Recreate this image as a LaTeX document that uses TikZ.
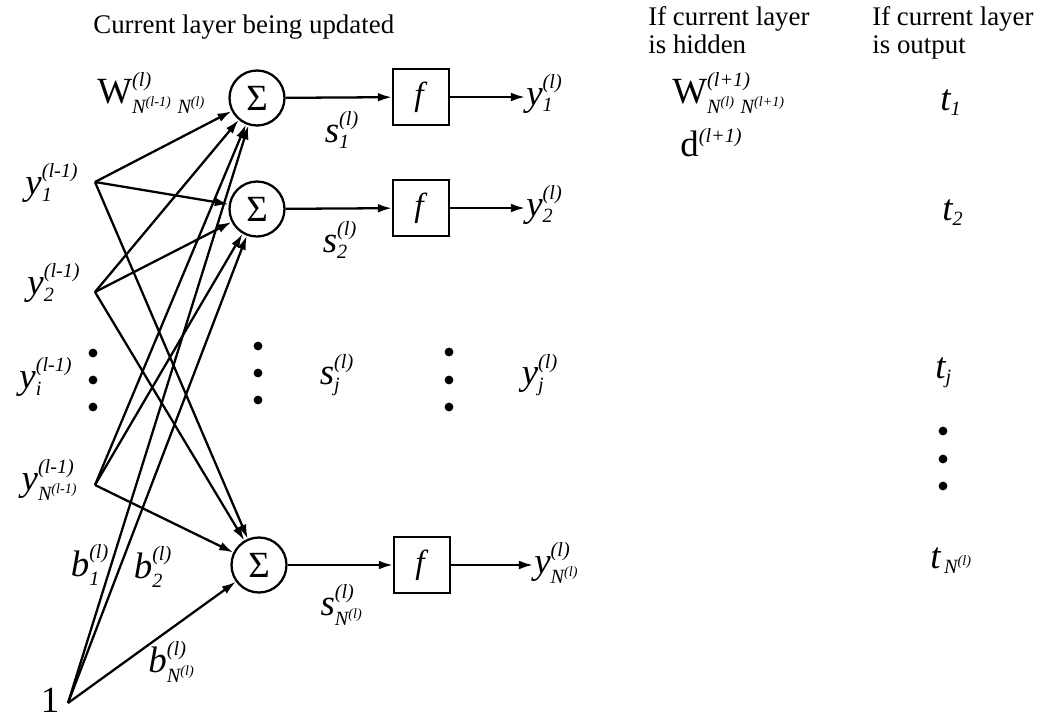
\documentclass[tikz,border=0pt]{standalone}
\usepackage{amsmath}
\usepackage{fontspec}
\setmainfont{Liberation Serif}
\usetikzlibrary{arrows.meta}
\DeclareMathSizes{21}{21}{11.5}{9}
\newcommand{\lblfont}{\fontsize{21}{23}\selectfont}
\newcommand{\hdfont}{\fontsize{15.3}{17}\selectfont}
\newcommand{\sym}[3]{$\textit{#1}^{\textit{#2}}_{\textit{#3}}$}

\begin{document}
\begin{tikzpicture}[x=0.02cm, y=-0.02cm]
\tikzset{sommenoeud/.style={draw, circle, line width=1.3pt, minimum size=1.1cm, inner sep=0pt, font=\fontsize{21}{23}\selectfont},
fnoeud/.style={draw, rectangle, line width=1.3pt, minimum size=1.12cm, inner sep=0pt, font=\fontsize{19}{21}\selectfont},
etiq/.style={inner sep=0pt, font=\lblfont},
entete/.style={inner sep=0pt, font=\hdfont, anchor=base west},
fleche/.style={line width=1.3pt, -{Latex[length=8pt, width=5pt]}},
petitpoint/.style={circle, fill, inner sep=0pt, minimum size=5pt}}
\useasboundingbox (0,0) rectangle (1050,720);
\node[entete] (titre) at (93,33) {Current layer being updated};
\node[entete] (cach1) at (648,25) {If current layer};
\node[entete] (cach2) at (648,53) {is hidden};
\node[entete] (sort1) at (872,25) {If current layer};
\node[entete] (sort2) at (872,53) {is output};
\node[sommenoeud] (S1) at (257,98) {Σ};
\node[sommenoeud] (S2) at (257,209) {Σ};
\node[sommenoeud] (S3) at (259,565) {Σ};
\node[fnoeud] (F1) at (421,97) {\textit{f}};
\node[fnoeud] (F2) at (421,208) {\textit{f}};
\node[fnoeud] (F3) at (422,565) {\textit{f}};
\coordinate (X1) at (95,182);
\coordinate (X2) at (95,292);
\coordinate (XN) at (95,485);
\coordinate (B) at (68,703);
\coordinate (Y1) at (525,97);
\coordinate (Y2) at (525,208);
\coordinate (YN) at (533,565);
\draw[fleche] (X1) -- (S1);
\draw[fleche] (X1) -- (S2);
\draw[fleche] (X1) -- (S3);
\draw[fleche] (X2) -- (S1);
\draw[fleche] (X2) -- (S2);
\draw[fleche] (X2) -- (S3);
\draw[fleche] (XN) -- (S1);
\draw[fleche] (XN) -- (S2);
\draw[fleche] (XN) -- (S3);
\draw[fleche] (B) -- (S1);
\draw[fleche] (B) -- (S2);
\draw[fleche] (B) -- (S3);
\draw[fleche] (S1) -- (F1);
\draw[fleche] (S2) -- (F2);
\draw[fleche] (S3) -- (F3);
\draw[fleche] (F1) -- (Y1);
\draw[fleche] (F2) -- (Y2);
\draw[fleche] (F3) -- (YN);
\node[etiq, anchor=base west] (W) at (97,103) {W$^{\textit{(l)}}_{\textit{N\textsuperscript{(l-1)}}\;\textit{N\textsuperscript{(l)}}}$};
\node[etiq] (ly1) at (52,183) {\sym{y}{(l-1)}{1}};
\node[etiq] (ly2) at (54,283) {\sym{y}{(l-1)}{2}};
\node[etiq] (lyi) at (46,377) {\sym{y}{(l-1)}{i}};
\node[etiq] (lyN) at (50,480) {\sym{y}{(l-1)}{N\textsuperscript{(l-1)}}};
\node[etiq, anchor=base] (un) at (50,712) {1};
\node[etiq] (b1) at (90,565) {\sym{b}{(l)}{1}};
\node[etiq] (b2) at (153,567) {\sym{b}{(l)}{2}};
\node[etiq] (bN) at (172,662) {\sym{b}{(l)}{N\textsuperscript{(l)}}};
\node[etiq] (s1) at (342,130) {\sym{s}{(l)}{1}};
\node[etiq] (s2) at (340,240) {\sym{s}{(l)}{2}};
\node[etiq] (sj) at (337,375) {\sym{s}{(l)}{j}};
\node[etiq] (sN) at (342,605) {\sym{s}{(l)}{N\textsuperscript{(l)}}};
\node[etiq, anchor=base west] (y1) at (526,105) {\sym{y}{(l)}{1}};
\node[etiq, anchor=base west] (y2) at (526,216) {\sym{y}{(l)}{2}};
\node[etiq] (yj) at (540,375) {\sym{y}{(l)}{j}};
\node[etiq, anchor=base west] (yN) at (534,573) {\sym{y}{(l)}{N\textsuperscript{(l)}}};
\node[petitpoint] (p1) at (93,353) {};
\node[petitpoint] (p2) at (93,380) {};
\node[petitpoint] (p3) at (93,407) {};
\node[petitpoint] (p4) at (258,346) {};
\node[petitpoint] (p5) at (258,373) {};
\node[petitpoint] (p6) at (258,400) {};
\node[petitpoint] (p7) at (449,352) {};
\node[petitpoint] (p8) at (449,380) {};
\node[petitpoint] (p9) at (449,407) {};
\node[etiq, anchor=base west] (Wsuiv) at (672,103) {W$^{\textit{(l+1)}}_{\textit{N\textsuperscript{(l)}}\;\textit{N\textsuperscript{(l+1)}}}$};
\node[etiq, anchor=base west] (dsuiv) at (680,156) {d$^{\textit{(l+1)}}$};
\node[etiq, anchor=base west] (t1) at (940,110) {$\textit{t}_{\textit{1}}$};
\node[etiq, anchor=base west] (t2) at (942,220) {$\textit{t}_{\textit{2}}$};
\node[etiq, anchor=base west] (tj) at (935,378) {$\textit{t}_{\textit{j}}$};
\node[petitpoint] (p10) at (943,431) {};
\node[petitpoint] (p11) at (943,459) {};
\node[petitpoint] (p12) at (943,486) {};
\node[etiq, anchor=base west] (tN) at (930,568) {$\textit{t}_{\,\textit{N\textsuperscript{(l)}}}$};
\end{tikzpicture}
\end{document}
